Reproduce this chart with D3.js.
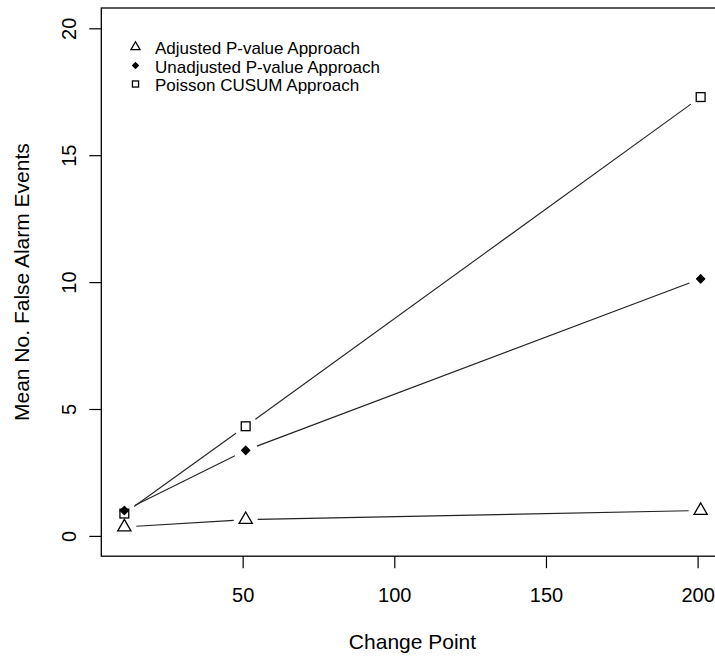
<!DOCTYPE html>
<html>
<head>
<meta charset="utf-8">
<script src="https://cdn.jsdelivr.net/npm/d3@7"></script>
<style>
  body { margin: 0; background: #fff; }
  text { font-family: "Liberation Sans", Arial, sans-serif; fill: #000; }
</style>
</head>
<body>
<script>
// change points (x) and mean number of false alarm events per approach
var changePoints = [11, 51, 201];
var adjusted = [0.35, 0.64, 1.0];
var unadjusted = [1.0, 3.37, 10.13];
var cusum = [0.88, 4.32, 17.29];
var xTicks = [50, 100, 150, 200];
var yTicks = [0, 5, 10, 15, 20];
var legendLabels = ["Adjusted P-value Approach", "Unadjusted P-value Approach", "Poisson CUSUM Approach"];

var width = 715, height = 660;
var svg = d3.select('body').append('svg')
    .attr('width', width)
    .attr('height', height);

// R style limits: data range extended by 4%
var x = d3.scaleLinear().domain([3.4, 208.6]).range([101.3, 723.7]);
var y = d3.scaleLinear().domain([-0.8, 20.8]).range([556.2, 8]);

// plot box
svg.append('rect')
    .attr('x', x.range()[0])
    .attr('y', y.range()[1])
    .attr('width', x.range()[1] - x.range()[0])
    .attr('height', y.range()[0] - y.range()[1])
    .attr('fill', 'none')
    .attr('stroke', '#000')
    .attr('stroke-width', 1.3);

// x axis
var xAxis = svg.append('g')
    .attr('transform', 'translate(0,' + y.range()[0] + ')')
    .call(d3.axisBottom(x).tickValues(xTicks).tickSize(12).tickSizeOuter(0).tickFormat(d3.format('d')));
xAxis.select('.domain').remove();
xAxis.selectAll('line').attr('stroke', '#000').attr('stroke-width', 1.2);
xAxis.selectAll('text')
    .attr('y', 46).attr('dy', 0)
    .attr('font-size', 20)
    .attr('font-family', '"Liberation Sans", Arial, sans-serif')
    .attr('fill', '#000');

// y axis, labels rotated like R's default las=0
var yAxis = svg.append('g')
    .attr('transform', 'translate(' + x.range()[0] + ',0)')
    .call(d3.axisLeft(y).tickValues(yTicks).tickSize(12).tickSizeOuter(0).tickFormat(d3.format('d')));
yAxis.select('.domain').remove();
yAxis.selectAll('line').attr('stroke', '#000').attr('stroke-width', 1.2);
yAxis.selectAll('text')
    .attr('x', 0).attr('dy', 0)
    .attr('text-anchor', 'middle')
    .attr('transform', 'translate(-25.5,0) rotate(-90)')
    .attr('font-size', 20)
    .attr('font-family', '"Liberation Sans", Arial, sans-serif')
    .attr('fill', '#000');

// axis titles
svg.append('text')
    .attr('x', (x.range()[0] + x.range()[1]) / 2)
    .attr('y', 649)
    .attr('text-anchor', 'middle')
    .attr('font-size', 21)
    .text('Change Point');
svg.append('text')
    .attr('transform', 'translate(29,' + (y.range()[0] + y.range()[1]) / 2 + ') rotate(-90)')
    .attr('text-anchor', 'middle')
    .attr('font-size', 21)
    .text('Mean No. False Alarm Events');

// symbols: R pch 2 (open triangle), pch 18 (filled diamond), pch 0 (open square)
function drawSymbol(g, type, cx, cy, s) {
    if (type === 'triangle') {
        var r = 1.555 * s, xc = 1.347 * s, yc = 0.778 * s;
        g.append('path')
            .attr('d', 'M' + cx + ',' + (cy - r) + 'L' + (cx + xc) + ',' + (cy + yc) + 'L' + (cx - xc) + ',' + (cy + yc) + 'Z')
            .attr('fill', 'none').attr('stroke', '#000').attr('stroke-width', 1.3);
    } else if (type === 'diamond') {
        var d = s * 0.85;
        g.append('path')
            .attr('d', 'M' + cx + ',' + (cy - d) + 'L' + (cx + d) + ',' + cy + 'L' + cx + ',' + (cy + d) + 'L' + (cx - d) + ',' + cy + 'Z')
            .attr('fill', '#000').attr('stroke', '#000').attr('stroke-width', 1.2)
            .attr('stroke-linejoin', 'round');
    } else {
        var h = s * 0.9;
        g.append('rect')
            .attr('x', cx - h).attr('y', cy - h)
            .attr('width', 2 * h).attr('height', 2 * h)
            .attr('fill', 'none').attr('stroke', '#000').attr('stroke-width', 1.3);
    }
}

var series = [
    { values: adjusted, type: 'triangle' },
    { values: unadjusted, type: 'diamond' },
    { values: cusum, type: 'square' }
];

// type="b": segments between points with a gap around each point
var gap = 12;
var plotG = svg.append('g');
series.forEach(function (s) {
    var pts = s.values.map(function (v, i) { return [x(changePoints[i]), y(v)]; });
    for (var i = 0; i < pts.length - 1; i++) {
        var p0 = pts[i], p1 = pts[i + 1];
        var dx = p1[0] - p0[0], dy = p1[1] - p0[1];
        var len = Math.sqrt(dx * dx + dy * dy);
        if (len <= 2 * gap) continue;
        var ux = dx / len, uy = dy / len;
        plotG.append('line')
            .attr('x1', p0[0] + ux * gap).attr('y1', p0[1] + uy * gap)
            .attr('x2', p1[0] - ux * gap).attr('y2', p1[1] - uy * gap)
            .attr('stroke', '#222')
            .attr('stroke-width', 1.1);
    }
    pts.forEach(function (p) { drawSymbol(plotG, s.type, p[0], p[1], 4.9); });
});

// legend (no box)
var legendRows = [47, 65.5, 84];
var legend = svg.append('g');
series.forEach(function (s, i) {
    drawSymbol(legend, s.type, 135.5, legendRows[i], 3.4);
    legend.append('text')
        .attr('x', 155)
        .attr('y', legendRows[i] + 7)
        .attr('font-size', 17)
        .text(legendLabels[i]);
});
</script>
</body>
</html>
